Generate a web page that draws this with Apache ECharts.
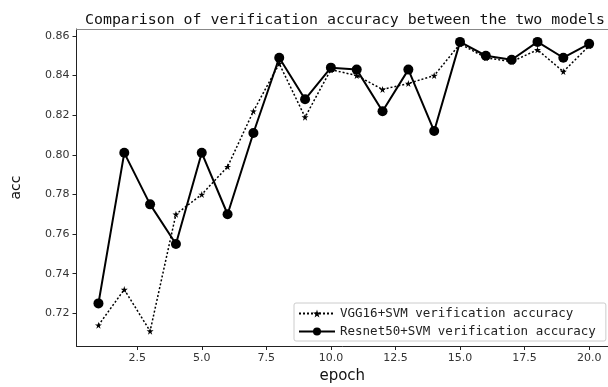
<!DOCTYPE html>
<html>
<head>
<meta charset="utf-8">
<script src="https://cdn.jsdelivr.net/npm/echarts@6/dist/echarts.min.js"></script>
<style>html,body{margin:0;padding:0;background:#fff;}#c{width:608px;height:387px;}</style>
</head>
<body>
<div id="c"></div>
<script>
const epochs = [1,2,3,4,5,6,7,8,9,10,11,12,13,14,15,16,17,18,19,20];
const vgg = [0.714,0.732,0.711,0.770,0.780,0.794,0.822,0.846,0.819,0.843,0.840,0.833,0.836,0.840,0.856,0.849,0.847,0.853,0.842,0.855];
const resnet = [0.725,0.801,0.775,0.755,0.801,0.770,0.811,0.849,0.828,0.844,0.843,0.822,0.843,0.812,0.857,0.850,0.848,0.857,0.849,0.856];
const xTicks = [2.5,5.0,7.5,10.0,12.5,15.0,17.5,20.0];
const yTicks = [0.72,0.74,0.76,0.78,0.80,0.82,0.84,0.86];
const names = ['VGG16+SVM verification accuracy','Resnet50+SVM verification accuracy'];

const star = 'path://M50,0 L61,35 L98,35 L68,57 L79,91 L50,70 L21,91 L32,57 L2,35 L39,35 Z';
const chart = echarts.init(document.getElementById('c'));
chart.setOption({
  animation: false,
  backgroundColor: '#fff',
  title: {
    text: 'Comparison of verification accuracy between the two models',
    left: 80, top: 8,
    textStyle: {fontFamily: 'DejaVu Sans Mono', fontSize: 14.9, fontWeight: 'normal', color: '#111'}
  },
  grid: {left: 76.5, right: 0, top: 29, bottom: 41, show: false, containLabel: false, outerBoundsMode: 'none'},
  legend: {
    orient: 'vertical', left: 294, top: 303,
    itemWidth: 36, itemHeight: 10, itemGap: 5,
    padding: [4, 10, 3, 4],
    borderColor: '#ccc', borderWidth: 1, borderRadius: 2,
    textStyle: {fontFamily: 'DejaVu Sans Mono', fontSize: 12.5, color: '#222'},
    data: names
  },
  xAxis: [{
    type: 'value', min: 0.15, max: 20.73,
    name: 'epoch', nameLocation: 'middle', nameGap: 23,
    nameTextStyle: {fontFamily: 'DejaVu Sans', fontSize: 15, color: '#111'},
    axisLine: {show: true, onZero: false, lineStyle: {color: '#222', width: 1}},
    axisTick: {show: true, inside: false, length: 4, customValues: xTicks, lineStyle: {color: '#222'}},
    axisLabel: {customValues: xTicks, margin: 7, fontFamily: 'DejaVu Sans', fontSize: 11, color: '#333',
      formatter: v => v.toFixed(1)},
    splitLine: {show: false}
  }, {
    type: 'value', position: 'top', min: 0.15, max: 20.73,
    axisLine: {show: true, onZero: false, lineStyle: {color: '#888', width: 1}},
    axisTick: {show: false}, axisLabel: {show: false}, splitLine: {show: false}
  }],
  yAxis: {
    type: 'value', min: 0.7035, max: 0.8635,
    name: 'acc', nameLocation: 'middle', nameGap: 53, nameRotate: 90,
    nameTextStyle: {fontFamily: 'DejaVu Sans', fontSize: 14, color: '#111'},
    axisLine: {show: true, lineStyle: {color: '#222', width: 1}},
    axisTick: {show: true, inside: false, length: 4, customValues: yTicks, lineStyle: {color: '#222'}},
    axisLabel: {customValues: yTicks, margin: 7, fontFamily: 'DejaVu Sans', fontSize: 11, color: '#333',
      formatter: v => v.toFixed(2)},
    splitLine: {show: false}
  },
  series: [
    {
      name: names[0], type: 'line',
      data: epochs.map((e, i) => [e, vgg[i]]),
      symbol: star, symbolSize: 7,
      lineStyle: {color: '#000', width: 1.5, type: [2, 2]},
      itemStyle: {color: '#000'}
    },
    {
      name: names[1], type: 'line',
      data: epochs.map((e, i) => [e, resnet[i]]),
      symbol: 'circle', symbolSize: 10,
      lineStyle: {color: '#000', width: 2},
      itemStyle: {color: '#000'}
    }
  ]
});
</script>
</body>
</html>
